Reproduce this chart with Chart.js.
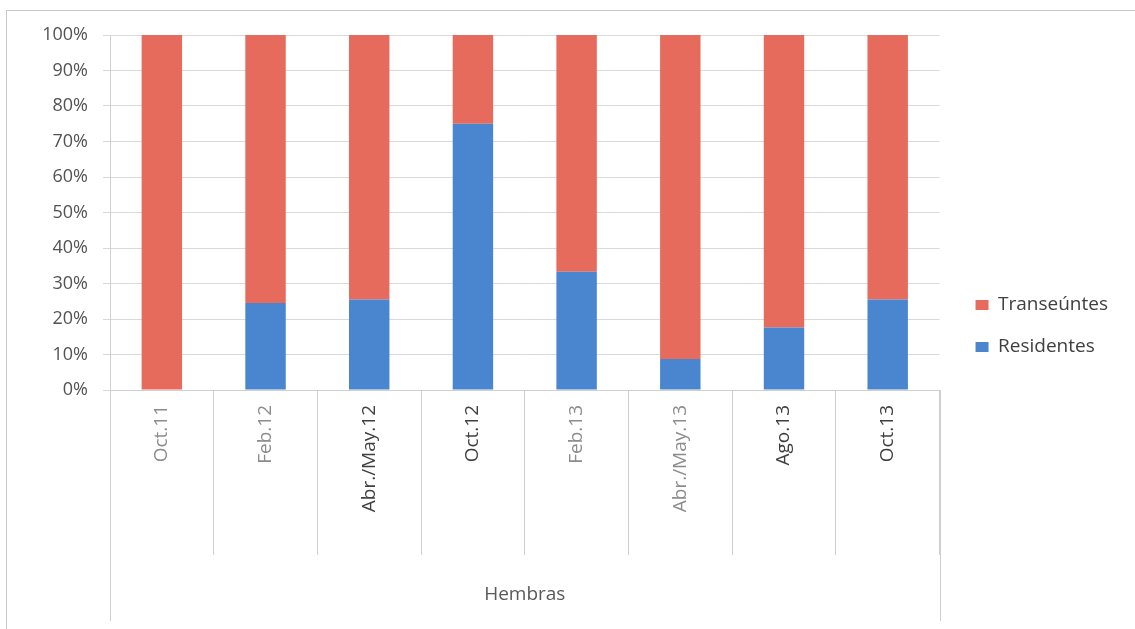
<!DOCTYPE html>
<html lang="es">
<head>
<meta charset="utf-8">
<title>Residentes y transeúntes - Hembras</title>
<script src="https://cdn.jsdelivr.net/npm/chart.js@4.4.1/dist/chart.umd.min.js"></script>
<style>
  html, body { margin: 0; padding: 0; background: #fff; }
  #wrap { position: relative; width: 1135px; height: 629px; }
</style>
</head>
<body>
<div id="wrap"><canvas id="chart" width="1135" height="629"></canvas></div>
<script>
// sampling periods (females only)
const periods = ["Oct.11", "Feb.12", "Abr./May.12", "Oct.12", "Feb.13", "Abr./May.13", "Ago.13", "Oct.13"];
const groupLabel = "Hembras";

// share of each class per period, in %
const residentes = [0, 24.5, 25.5, 75, 33.3, 8.7, 17.6, 25.5];
const transeuntes = [100, 75.5, 74.5, 25, 66.7, 91.3, 82.4, 74.5];

// some period labels came out lighter than others
const periodColors = ["#8c8c8c", "#8c8c8c", "#3f3f3f", "#3f3f3f", "#8c8c8c", "#8c8c8c", "#3f3f3f", "#3f3f3f"];

const FONT = "'Open Sans', 'DejaVu Sans', sans-serif";
const LINE = "#d0d0d0";

// outer edges of the category block and the group label under it
const groupAxis = {
  id: "groupAxis",
  afterDraw(chart) {
    const { ctx, chartArea } = chart;
    const x = chart.scales.x;
    ctx.save();
    ctx.strokeStyle = LINE;
    ctx.lineWidth = 1;
    ctx.beginPath();
    [x.left, x.right].forEach((px) => {
      const xx = Math.round(px) + 0.5;
      ctx.moveTo(xx, chartArea.bottom);
      ctx.lineTo(xx, 621);
    });
    ctx.stroke();

    ctx.fillStyle = "#595959";
    ctx.font = "19px " + FONT;
    ctx.textAlign = "center";
    ctx.textBaseline = "middle";
    ctx.fillText(groupLabel, (x.left + x.right) / 2, 595);

    // chart frame
    ctx.strokeStyle = "#c9c9c9";
    ctx.strokeRect(6.5, 10.5, 1200, 700);
    ctx.restore();
  },
};

new Chart(document.getElementById("chart"), {
  type: "bar",
  data: {
    labels: periods,
    datasets: [
      {
        label: "Residentes",
        data: residentes,
        backgroundColor: "#4a86cf",
      },
      {
        label: "Transeúntes",
        data: transeuntes,
        backgroundColor: "#e66b5d",
      },
    ],
  },
  options: {
    responsive: false,
    animation: false,
    layout: { padding: { top: 35, right: 17, left: 0, bottom: 12 } },
    datasets: {
      bar: { categoryPercentage: 1, barPercentage: 0.39 },
    },
    plugins: {
      tooltip: { enabled: false },
      legend: {
        position: "right",
        reverse: true,
        labels: {
          boxWidth: 13,
          boxHeight: 10,
          padding: 23,
          color: "#404040",
          font: { family: FONT, size: 19 },
        },
      },
    },
    scales: {
      x: {
        stacked: true,
        offset: true,
        border: { color: LINE },
        grid: { drawOnChartArea: false, offset: true, tickLength: 165, color: LINE },
        ticks: {
          autoSkip: false,
          minRotation: 90,
          maxRotation: 90,
          padding: -150,
          color: (c) => periodColors[c.index],
          font: { family: FONT, size: 19 },
        },
        afterFit(s) { s.height = 227; },
      },
      y: {
        stacked: true,
        min: 0,
        max: 100,
        border: { color: LINE },
        grid: { color: "#d9d9d9", tickLength: 7 },
        ticks: {
          stepSize: 10,
          padding: 15,
          color: "#535353",
          font: { family: FONT, size: 18 },
          callback: (v) => v + "%",
        },
        afterFit(s) { s.width = 110; },
      },
      // spacer between plot and legend
      gap: {
        type: "linear",
        position: "right",
        display: true,
        grid: { display: false },
        border: { display: false },
        ticks: { display: false },
        afterFit(s) { s.width = 13; },
      },
    },
  },
  plugins: [groupAxis],
});
</script>
</body>
</html>
